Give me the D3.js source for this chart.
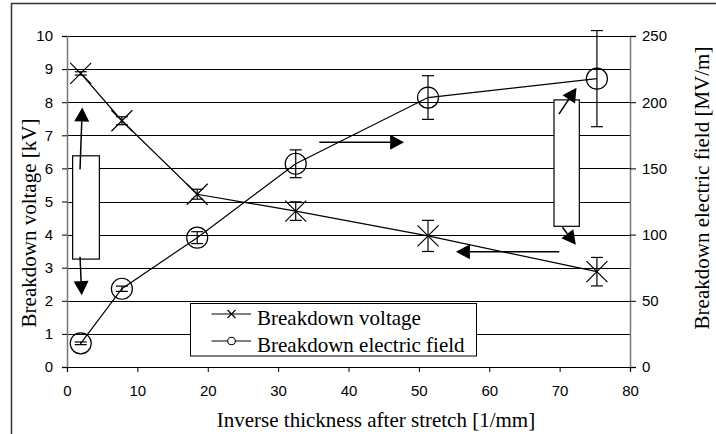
<!DOCTYPE html>
<html><head><meta charset="utf-8">
<script src="https://cdn.jsdelivr.net/npm/d3@7"></script>
<style>body{margin:0;background:#fff}svg{display:block}</style>
</head><body>
<script>
// ---- data ----
const xValues = [1.95, 7.8, 18.5, 32.5, 51.3, 75.3];              // inverse thickness [1/mm]
const voltage = [8.87, 7.44, 5.22, 4.71, 3.96, 2.88];              // kV
const voltageErr = [0.05, 0.12, 0.15, 0.28, 0.47, 0.43];
const field = [17.9, 59.1, 97.7, 153.5, 203.5, 217.8];             // MV/m
const fieldErr = [1, 2, 4.5, 10.5, 16.5, 36.3];
const xTicks = [0, 10, 20, 30, 40, 50, 60, 70, 80];
const yLeftTicks = [0, 1, 2, 3, 4, 5, 6, 7, 8, 9, 10];
const yRightTicks = [0, 50, 100, 150, 200, 250];
const legendLabels = ["Breakdown voltage", "Breakdown electric field"];
// annotation boxes [x0, x1, yTop, yBottom] in data units (x, kV)
const boxes = [[0.8, 4.6, 6.38, 3.26], [69.2, 72.8, 8.07, 4.25]];
// annotation arrows [xTail, yTail, xTip, yTip] in data units (x, kV)
const arrows = [
  [1.85, 5.97, 2.17, 7.84],
  [1.85, 3.33, 2.09, 2.17],
  [35.85, 6.79, 47.9, 6.79],
  [69.95, 3.48, 55.27, 3.48],
  [69.9, 7.64, 72.4, 8.44],
  [70.4, 4.22, 72.3, 3.69]
];

const W = 716, H = 434;
const svg = d3.select("body").append("svg").attr("width", W).attr("height", H);
const x = d3.scaleLinear().domain([0, 80]).range([67, 630]);
const yL = d3.scaleLinear().domain([0, 10]).range([367, 36]);
const yR = d3.scaleLinear().domain([0, 250]).range([367, 36]);
const serif = "'Liberation Serif','Times New Roman',serif";
const sans = "'Liberation Sans',Arial,sans-serif";

// outer frame
svg.append("path").attr("d", `M11.5,${H+5} L11.5,3.5 L${W+5},3.5`)
  .attr("fill", "none").attr("stroke", "#333").attr("stroke-width", 1.5);

// gridlines
svg.append("g").selectAll("line").data(yLeftTicks.filter(d => d > 0)).join("line")
  .attr("x1", x(0)).attr("x2", x(80)).attr("y1", d => Math.round(yL(d)) + 0.5).attr("y2", d => Math.round(yL(d)) + 0.5)
  .attr("stroke", "#000").attr("stroke-width", 1);

// left axis
const gL = svg.append("g").attr("transform", `translate(${x(0)},0)`)
  .call(d3.axisLeft(yL).tickValues(yLeftTicks).tickSize(5).tickPadding(9).tickFormat(d3.format("d")));
gL.select(".domain").attr("stroke", "#777").attr("stroke-width", 1.5);
gL.selectAll(".tick line").attr("stroke", "#000");
gL.selectAll("text").attr("font-family", sans).attr("font-size", 15).attr("fill", "#000");

// right axis
const gR = svg.append("g").attr("transform", `translate(${x(80)},0)`)
  .call(d3.axisRight(yR).tickValues(yRightTicks).tickSize(6).tickPadding(6).tickFormat(d3.format("d")));
gR.select(".domain").attr("stroke", "#777").attr("stroke-width", 1.5);
gR.selectAll(".tick line").attr("stroke", "#000");
gR.selectAll("text").attr("font-family", sans).attr("font-size", 15).attr("fill", "#000");

// bottom axis
const gB = svg.append("g").attr("transform", `translate(0,${yL(0)})`)
  .call(d3.axisBottom(x).tickValues(xTicks).tickSize(5).tickPadding(13).tickFormat(d3.format("d")));
gB.select(".domain").attr("stroke", "#000").attr("stroke-width", 1.2);
gB.selectAll(".tick line").attr("stroke", "#000");
gB.selectAll("text").attr("font-family", sans).attr("font-size", 15).attr("fill", "#000");

// axis titles
svg.append("text").attr("transform", "translate(36,223) rotate(-90)").attr("text-anchor", "middle")
  .attr("font-family", serif).attr("font-size", 21).text("Breakdown voltage [kV]");
svg.append("text").attr("transform", "translate(709,188) rotate(-90)").attr("text-anchor", "middle")
  .attr("font-family", serif).attr("font-size", 21).text("Breakdown electric field [MV/m]");
svg.append("text").attr("x", 376).attr("y", 427).attr("text-anchor", "middle")
  .attr("font-family", serif).attr("font-size", 21).text("Inverse thickness after stretch [1/mm]");

// annotation boxes
svg.append("g").selectAll("rect").data(boxes).join("rect")
  .attr("x", d => x(d[0])).attr("y", d => yL(d[2]))
  .attr("width", d => x(d[1]) - x(d[0])).attr("height", d => yL(d[3]) - yL(d[2]))
  .attr("fill", "#fff").attr("stroke", "#000").attr("stroke-width", 1.2);

// arrows
const aG = svg.append("g");
arrows.forEach(a => {
  const x1 = x(a[0]), y1 = yL(a[1]), x2 = x(a[2]), y2 = yL(a[3]);
  const dx = x2 - x1, dy = y2 - y1, len = Math.hypot(dx, dy);
  const ux = dx / len, uy = dy / len, hl = 14, hw = 7.5;
  const bx = x2 - ux * hl, by = y2 - uy * hl;
  aG.append("line").attr("x1", x1).attr("y1", y1).attr("x2", bx).attr("y2", by)
    .attr("stroke", "#000").attr("stroke-width", 1.5);
  aG.append("path").attr("d", `M${x2},${y2} L${bx - uy * hw},${by + ux * hw} L${bx + uy * hw},${by - ux * hw} Z`)
    .attr("fill", "#000");
});

// series lines
const pts = xValues.map((v, i) => ({x: v, v: voltage[i], ve: voltageErr[i], f: field[i], fe: fieldErr[i]}));
svg.append("path").datum(pts).attr("fill", "none").attr("stroke", "#000").attr("stroke-width", 1.2)
  .attr("d", d3.line().x(d => x(d.x)).y(d => yL(d.v)));
svg.append("path").datum(pts).attr("fill", "none").attr("stroke", "#000").attr("stroke-width", 1.2)
  .attr("d", d3.line().x(d => x(d.x)).y(d => yR(d.f)));

// error bars
function errBars(sel, ys, yv, ye) {
  const g = svg.append("g").attr("stroke", "#000").attr("stroke-width", 1.2);
  pts.forEach(p => {
    const cx = x(p.x), t = ys(p[yv] + p[ye]), b = ys(p[yv] - p[ye]);
    g.append("line").attr("x1", cx).attr("x2", cx).attr("y1", t).attr("y2", b);
    g.append("line").attr("x1", cx - 6).attr("x2", cx + 6).attr("y1", t).attr("y2", t);
    g.append("line").attr("x1", cx - 6).attr("x2", cx + 6).attr("y1", b).attr("y2", b);
  });
}
errBars(null, yL, "v", "ve");
errBars(null, yR, "f", "fe");

// markers: voltage X
const mX = svg.append("g").attr("stroke", "#000").attr("stroke-width", 1.2);
pts.forEach(p => {
  const cx = x(p.x), cy = yL(p.v), s = 10.5;
  mX.append("path").attr("d", `M${cx - s},${cy - s} L${cx + s},${cy + s} M${cx - s},${cy + s} L${cx + s},${cy - s}`);
});
// markers: field circles
svg.append("g").selectAll("circle").data(pts).join("circle")
  .attr("cx", d => x(d.x)).attr("cy", d => yR(d.f)).attr("r", 10.5)
  .attr("fill", "none").attr("stroke", "#000").attr("stroke-width", 1.2);

// legend
const lg = svg.append("g");
lg.append("rect").attr("x", 190.5).attr("y", 303.5).attr("width", 286).attr("height", 52.5)
  .attr("fill", "#fff").attr("stroke", "#000").attr("stroke-width", 1);
const rowsY = [314, 341];
legendLabels.forEach((lab, i) => {
  const yy = rowsY[i];
  lg.append("line").attr("x1", 211.5).attr("x2", 251).attr("y1", yy).attr("y2", yy).attr("stroke", "#000").attr("stroke-width", 1.2);
  if (i === 0) {
    lg.append("path").attr("d", `M${227.5},${yy - 4} L${235.5},${yy + 4} M${227.5},${yy + 4} L${235.5},${yy - 4}`)
      .attr("stroke", "#000").attr("stroke-width", 1.1);
  } else {
    lg.append("circle").attr("cx", 231.5).attr("cy", yy).attr("r", 3.8).attr("fill", "#fff").attr("stroke", "#000").attr("stroke-width", 1.1);
  }
  lg.append("text").attr("x", 257).attr("y", yy + 11).attr("font-family", serif).attr("font-size", 21).text(lab);
});
</script>
</body></html>
